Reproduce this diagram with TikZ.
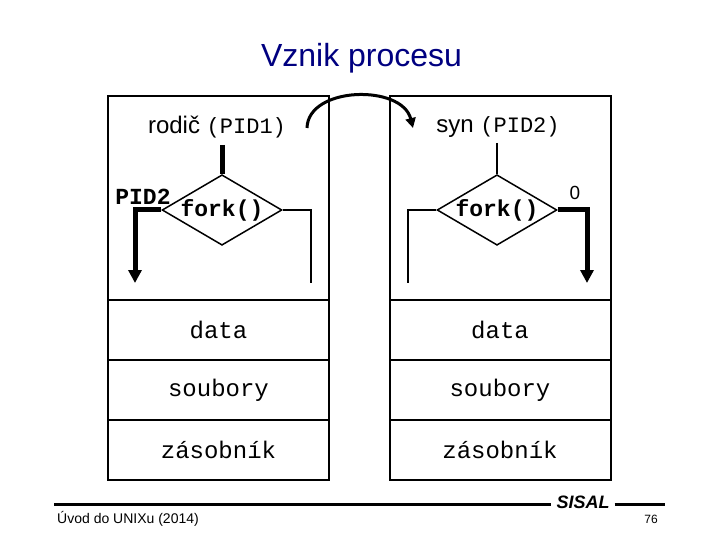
\documentclass[tikz,border=0pt]{standalone}
\usepackage{fontspec}
\setmainfont{Liberation Sans}
\setmonofont{Liberation Mono}
\usetikzlibrary{shapes.geometric,arrows.meta}
\definecolor{titlenavy}{RGB}{0,0,128}

\begin{document}
\begin{tikzpicture}[x=1pt, y=-1pt,
  part/.style={rectangle, draw, line width=2pt, minimum width=221pt, inner sep=0pt, font=\fontsize{24}{28}\selectfont\ttfamily},
  upper/.style={part, minimum height=204pt},
  seg/.style={part, minimum height=60pt},
  decision/.style={diamond, draw, line width=1.5pt, minimum width=119pt, minimum height=70pt, inner sep=0pt, aspect=1.7, font=\fontsize{23}{28}\selectfont\ttfamily\bfseries},
  thinline/.style={line width=1.5pt},
  thickline/.style={line width=5pt},
  thickarrow/.style={thickline, -{Triangle[width=13pt,length=13pt]}},
  lbl/.style={font=\fontsize{24}{28}\selectfont, inner sep=0pt},
  code/.style={font=\fontsize{23}{28}\selectfont\ttfamily\bfseries}
]
  \useasboundingbox (0,0) rectangle (720,540);

  \node[font=\fontsize{32}{38}\selectfont, text=titlenavy, anchor=base] (title) at (361.5,67) {Vznik procesu};

  % rodic
  \node[upper] (lproc) at (218.5,198) {};
  \node[seg] (ldata) at (218.5,330) {data};
  \node[seg] (lfiles) at (218.5,390) {soubory};
  \node[seg] (lstack) at (218.5,450) {zásobník};
  \node[lbl] (lname) at (217,127) {rodič \texttt{\fontsize{22}{26}\selectfont(PID1)}};
  \node[decision] (lfork) at (222,210) {fork()};
  \node[code] (lpid) at (143,197) {PID2};
  \coordinate (lin) at (222,145);
  \coordinate (lout) at (135,283);
  \coordinate (lelse) at (311,283);
  \draw[thickline] (lin) -- (lfork.north);
  \draw[thickarrow] (lfork.west) -| (lout);
  \draw[thinline] (lfork.east) -| (lelse);

  % syn
  \node[upper] (rproc) at (500,198) {};
  \node[seg] (rdata) at (500,330) {data};
  \node[seg] (rfiles) at (500,390) {soubory};
  \node[seg] (rstack) at (500,450) {zásobník};
  \node[lbl] (rname) at (498,127) {syn \texttt{\fontsize{22}{26}\selectfont(PID2)}};
  \node[decision] (rfork) at (497,210) {fork()};
  \node[font=\fontsize{19}{22}\selectfont] (rzero) at (575,193) {0};
  \coordinate (rin) at (497,143);
  \coordinate (rout) at (587,283);
  \coordinate (relse) at (408,283);
  \draw[thinline] (rin) -- (rfork.north);
  \draw[thickarrow] (rfork.east) -| (rout);
  \draw[thinline] (rfork.west) -| (relse);

  % fork arrow
  \coordinate (cstart) at (307,128);
  \coordinate (cend) at (413,128);
  \draw[line width=3pt, -{Triangle[width=10pt,length=10pt]}] (cstart) .. controls (308,86) and (402,84) .. (cend);

  % footer
  \node[font=\fontsize{18}{22}\selectfont\bfseries\itshape, inner sep=5pt] (sisal) at (583,502) {SISAL};
  \coordinate (fleft) at (54,504);
  \coordinate (fright) at (665,504);
  \draw[line width=3pt] (fleft) -- (sisal.west |- fleft);
  \draw[line width=3pt] (sisal.east |- fright) -- (fright);
  \node[font=\fontsize{14}{16}\selectfont, anchor=base west, inner sep=0pt] (course) at (57,523) {Úvod do UNIXu (2014)};
  \node[font=\fontsize{12}{14}\selectfont, anchor=base, inner sep=0pt] (page) at (651,523) {76};
\end{tikzpicture}
\end{document}
